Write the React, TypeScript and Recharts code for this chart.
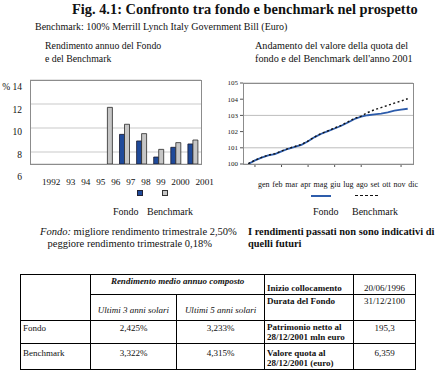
import { Bar, BarChart, CartesianGrid, Line, LineChart, XAxis, YAxis } from "recharts"

const years = ["1992", "1993", "1994", "1995", "1996", "1997", "1998", "1999", "2000", "2001"]
const yearLabels = ["1992", "93", "94", "95", "96", "97", "98", "99", "2000", "2001"]
const fondoAnnual = [null, null, null, null, null, 9.47, 8.92, 7.58, 8.39, 8.67]
const benchAnnual = [null, null, null, null, 11.72, 10.31, 9.53, 8.22, 8.78, 9.0]
const leftYLabels = ["% 14", "12", "10", "8", "6"]
const leftGridTicks = [7, 8, 9, 10, 11, 12, 13, 14]

// months elapsed in 2001, two readings per month
const quotaTime = [0, 0.5, 1, 1.5, 2, 2.5, 3, 3.5, 4, 4.5, 5, 5.5, 6, 6.5, 7, 7.5, 8, 8.5, 9, 9.5, 10, 10.5, 11, 11.5, 12]
const fondoQuota = [
  100.0, 100.22, 100.39, 100.53, 100.61, 100.78, 100.94, 101.06, 101.18, 101.4, 101.66, 101.87, 102.03,
  102.19, 102.36, 102.56, 102.78, 102.92, 103.01, 103.06, 103.11, 103.19, 103.3, 103.36, 103.41,
]
const benchQuota = [
  100.02, 100.24, 100.41, 100.55, 100.64, 100.8, 100.96, 101.08, 101.21, 101.42, 101.68, 101.89, 102.05,
  102.22, 102.39, 102.6, 102.82, 102.96, 103.18, 103.35, 103.48, 103.62, 103.76, 103.89, 104.03,
]
const months = ["gen", "feb", "mar", "apr", "mag", "giu", "lug", "ago", "set", "ott", "nov", "dic"]
const monthTicks = months.map((_, i) => i + 0.5)
const rightYTicks = [100, 101, 102, 103, 104, 105]

const annualData = years.map((y, i) => ({ year: y, fondo: fondoAnnual[i], bench: benchAnnual[i] }))
const quotaData = quotaTime.map((t, i) => ({ t, fondo: fondoQuota[i], bench: benchQuota[i] }))

const BLUE = "#1f4a9a"
const GREY_BAR = "#c6c6c6"
const serif = '"Liberation Serif", "Times New Roman", serif'

const abs = (left: number, top: number, extra: React.CSSProperties = {}): React.CSSProperties => ({
  position: "absolute",
  left,
  top,
  whiteSpace: "nowrap",
  ...extra,
})

const cell: React.CSSProperties = { border: "1px solid #000", padding: "1px 2px", fontSize: 9, lineHeight: "10px" }

export default function App() {
  return (
    <div style={{ position: "absolute", left: 0, top: 0, width: 440, height: 376, background: "#fff", fontFamily: serif, color: "#111" }}>
      <div style={abs(72, 1, { fontSize: 14.4, fontWeight: "bold" })}>
        Fig. 4.1: Confronto tra fondo e benchmark nel prospetto
      </div>
      <div style={abs(35, 21, { fontSize: 10 })}>Benchmark: 100% Merrill Lynch Italy Government Bill (Euro)</div>

      <div style={abs(45, 40, { fontSize: 9.8, lineHeight: "12.5px" })}>
        Rendimento annuo del Fondo
        <br />e del Benchmark
      </div>
      <div style={abs(255, 40, { fontSize: 10.2, lineHeight: "12.5px" })}>
        Andamento del valore della quota del
        <br />
        fondo e del Benchmark dell'anno 2001
      </div>

      {/* left chart: annual returns */}
      <div
        style={abs(2, 82, {
          height: 101,
          display: "flex",
          flexDirection: "column",
          justifyContent: "space-between",
          alignItems: "flex-end",
          width: 20,
          fontSize: 9.5,
          lineHeight: "11px",
        })}
      >
        {leftYLabels.map((l) => (
          <span key={l}>{l}</span>
        ))}
      </div>
      <div style={abs(0, 70)}>
        <BarChart
          width={215}
          height={100}
          data={annualData}
          margin={{ top: 10, right: 14, left: 30, bottom: 0 }}
          barSize={5}
          barGap={0}
        >
          <CartesianGrid vertical={false} stroke="#c9c9c9" />
          <XAxis dataKey="year" height={6} axisLine={false} tickLine={false} tick={false} />
          <YAxis hide domain={[7, 14]} ticks={leftGridTicks} allowDataOverflow />
          <Bar dataKey="fondo" fill={BLUE} stroke="#1a1a2e" strokeWidth={0.8} isAnimationActive={false} />
          <Bar dataKey="bench" fill={GREY_BAR} stroke="#2a2a2a" strokeWidth={0.8} isAnimationActive={false} />
        </BarChart>
      </div>
      <div style={abs(30, 80, { width: 172, height: 85, border: "1px solid #8c8c8c", boxSizing: "border-box", pointerEvents: "none" })} />
      <div style={abs(42, 177, { width: 172, display: "flex", justifyContent: "space-between", fontSize: 9.2 })}>
        {yearLabels.map((l) => (
          <span key={l}>{l}</span>
        ))}
      </div>

      <div style={abs(137, 190, { width: 4, height: 4, background: BLUE, border: "1px solid #223" })} />
      <div style={abs(162, 190, { width: 4, height: 4, background: GREY_BAR, border: "1px solid #333" })} />
      <div style={abs(113, 206, { fontSize: 10 })}>Fondo</div>
      <div style={abs(147, 206, { fontSize: 10 })}>Benchmark</div>

      {/* right chart: value of the unit in 2001 */}
      <div style={abs(218, 72)}>
        <LineChart width={200} height={100} data={quotaData} margin={{ top: 11, right: 5, left: 0, bottom: 0 }}>
          <CartesianGrid vertical={false} stroke="#bdbdbd" />
          <XAxis
            type="number"
            dataKey="t"
            domain={[-0.4, 12.4]}
            ticks={monthTicks}
            height={8}
            axisLine={false}
            tickSize={3}
            tickLine={{ stroke: "#555" }}
            tick={() => <g />}
          />
          <YAxis
            domain={[100, 105]}
            ticks={rightYTicks}
            width={25}
            axisLine={false}
            tickSize={3}
            tickLine={{ stroke: "#555" }}
            tick={{ fontSize: 7, fontFamily: serif, fill: "#222" }}
          />
          <Line dataKey="fondo" stroke="#2d5cab" strokeWidth={1.8} dot={false} isAnimationActive={false} />
          <Line dataKey="bench" stroke="#111" strokeWidth={1.4} strokeDasharray="2 2.5" dot={false} isAnimationActive={false} />
        </LineChart>
      </div>
      <div style={abs(243, 83, { width: 171, height: 82, border: "1px solid #8c8c8c", boxSizing: "border-box", pointerEvents: "none" })} />

      <div style={abs(258, 180, { fontSize: 8, wordSpacing: 0.8 })}>{months.join(" ")}</div>
      <div style={abs(311, 195, { width: 20, height: 2, background: "#2d5cab" })} />
      <div style={abs(355, 195, { width: 23, height: 0, borderTop: "1.5px dashed #111" })} />
      <div style={abs(313, 206, { fontSize: 10 })}>Fondo</div>
      <div style={abs(352, 206, { fontSize: 10 })}>Benchmark</div>

      <div style={abs(40, 226, { fontSize: 10.5, lineHeight: "11.5px", textAlign: "right", width: 172 })}>
        <i>Fondo:</i> migliore rendimento trimestrale 2,50%
        <br />
        peggiore rendimento trimestrale 0,18%
      </div>
      <div style={abs(248, 226, { fontSize: 10.4, lineHeight: "11.5px", fontWeight: "bold" })}>
        I rendimenti passati non sono indicativi di
        <br />
        quelli futuri
      </div>

      <table
        style={{
          position: "absolute",
          left: 20,
          top: 274,
          borderCollapse: "collapse",
          tableLayout: "fixed",
          width: 395,
          fontFamily: serif,
        }}
      >
        <colgroup>
          <col style={{ width: 70 }} />
          <col style={{ width: 86 }} />
          <col style={{ width: 88 }} />
          <col style={{ width: 89 }} />
          <col style={{ width: 62 }} />
        </colgroup>
        <tbody>
          <tr style={{ height: 20 }}>
            <td style={cell} rowSpan={2} />
            <td style={{ ...cell, textAlign: "center", verticalAlign: "top", fontStyle: "italic", fontWeight: "bold" }} colSpan={2}>
              Rendimento medio annuo composto
            </td>
            <td style={{ ...cell, fontWeight: "bold", verticalAlign: "bottom" }}>Inizio collocamento</td>
            <td style={{ ...cell, textAlign: "center", verticalAlign: "bottom" }}>20/06/1996</td>
          </tr>
          <tr style={{ height: 26 }}>
            <td style={{ ...cell, textAlign: "center", fontStyle: "italic", verticalAlign: "middle", paddingTop: 6 }}>Ultimi 3 anni solari</td>
            <td style={{ ...cell, textAlign: "center", fontStyle: "italic", verticalAlign: "middle", paddingTop: 6 }}>Ultimi 5 anni solari</td>
            <td style={{ ...cell, fontWeight: "bold", verticalAlign: "top" }}>Durata del Fondo</td>
            <td style={{ ...cell, textAlign: "center", verticalAlign: "top" }}>31/12/2100</td>
          </tr>
          <tr style={{ height: 22 }}>
            <td style={{ ...cell, verticalAlign: "top", paddingTop: 2 }}>Fondo</td>
            <td style={{ ...cell, textAlign: "center", verticalAlign: "top", paddingTop: 2 }}>2,425%</td>
            <td style={{ ...cell, textAlign: "center", verticalAlign: "top", paddingTop: 2 }}>3,233%</td>
            <td style={{ ...cell, fontWeight: "bold", verticalAlign: "top" }}>
              Patrimonio netto al
              <br />
              28/12/2001 mln euro
            </td>
            <td style={{ ...cell, textAlign: "center", verticalAlign: "top", paddingTop: 2 }}>195,3</td>
          </tr>
          <tr style={{ height: 26 }}>
            <td style={{ ...cell, verticalAlign: "top", paddingTop: 4 }}>Benchmark</td>
            <td style={{ ...cell, textAlign: "center", verticalAlign: "top", paddingTop: 4 }}>3,322%</td>
            <td style={{ ...cell, textAlign: "center", verticalAlign: "top", paddingTop: 4 }}>4,315%</td>
            <td style={{ ...cell, fontWeight: "bold", verticalAlign: "top", paddingTop: 4 }}>
              Valore quota al
              <br />
              28/12/2001 (euro)
            </td>
            <td style={{ ...cell, textAlign: "center", verticalAlign: "top", paddingTop: 4 }}>6,359</td>
          </tr>
        </tbody>
      </table>
    </div>
  )
}
